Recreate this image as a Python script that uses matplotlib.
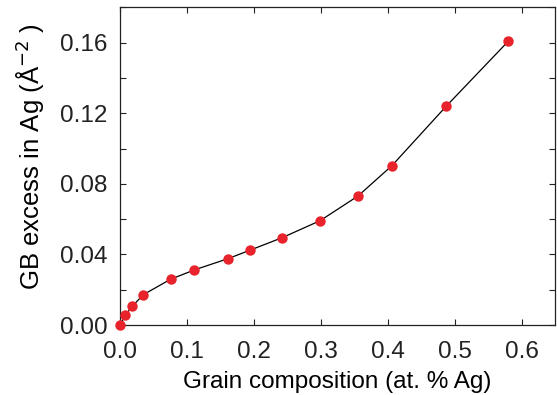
import matplotlib
matplotlib.use('Agg')
import matplotlib.pyplot as plt
from matplotlib.ticker import MultipleLocator

plt.rcParams['font.family'] = ['Liberation Sans', 'DejaVu Sans']

# grain composition (at. % Ag) vs GB excess (A^-2)
comp = [0.0, 0.008, 0.018, 0.035, 0.0755, 0.111, 0.1615, 0.195, 0.2425,
        0.299, 0.3557, 0.4064, 0.4878, 0.580]
excess = [0.0, 0.0055, 0.0105, 0.0172, 0.0259, 0.0312, 0.0376, 0.0425, 0.0495,
          0.0591, 0.0731, 0.0903, 0.1241, 0.1607]

fs = 17.5

fig = plt.figure(figsize=(5.57, 3.95), dpi=100)
ax = fig.add_axes([0.2154, 0.1772, 0.7810, 0.8043])

ax.plot(comp, excess, color='black', lw=0.9, zorder=2)
ax.plot(comp, excess, 'o', color='#e8232b', ms=7.5, mec='none', zorder=3, clip_on=False)

ax.set_xlim(0, 0.65)
ax.set_ylim(0, 0.18)
ax.xaxis.set_major_locator(MultipleLocator(0.1))
ax.yaxis.set_major_locator(MultipleLocator(0.04))
ax.yaxis.set_minor_locator(MultipleLocator(0.02))
ax.xaxis.set_major_formatter(plt.FuncFormatter(lambda v, p: '%.1f' % v))
ax.yaxis.set_major_formatter(plt.FuncFormatter(lambda v, p: '%.2f' % v))

ax.tick_params(which='both', direction='in', top=True, right=True,
               length=4, width=0.8, labelsize=fs, colors='#222222')
ax.tick_params(axis='y', pad=9)
ax.tick_params(axis='x', pad=11.5)
for s in ax.spines.values():
    s.set_linewidth(0.9)
    s.set_color('#222222')

ax.set_xlabel('Grain composition (at. % Ag)', fontsize=fs, labelpad=5.5)
ax.set_ylabel('GB excess in Ag (Å$^{-2}$ )', fontsize=18.5)
ax.yaxis.set_label_coords(-0.168, 0.53)

fig.savefig('out.png', dpi=100)
